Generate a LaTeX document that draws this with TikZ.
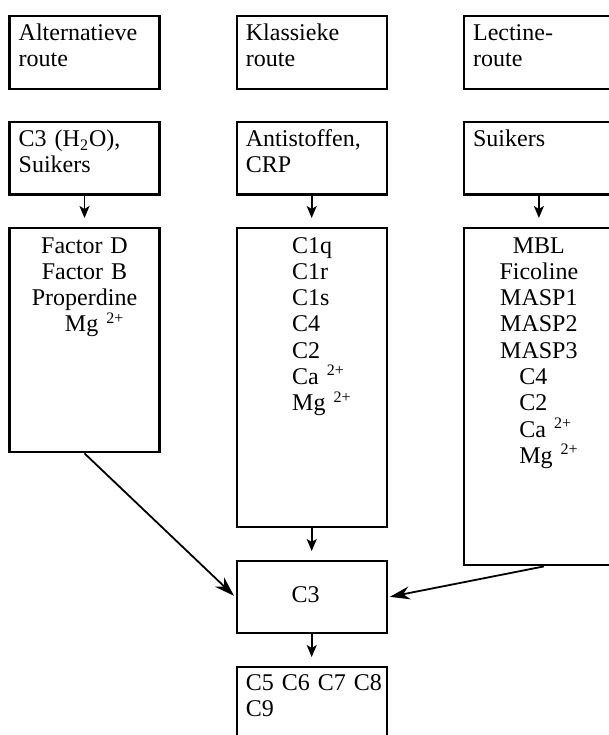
\documentclass[tikz,border=0pt]{standalone}
\usepackage{fontspec}
\setmainfont{Liberation Serif}
\usetikzlibrary{arrows.meta,positioning}

\tikzset{
  box/.style={draw, line width=1.2pt, anchor=north west, inner sep=0pt, minimum width=75pt},
  links/.style={anchor=base west, inner sep=0pt, text width=70pt, align=left, font=\fontsize{12}{13}\selectfont},
  midden/.style={anchor=base, inner sep=0pt, text width=75pt, align=center, font=\fontsize{12}{13.15}\selectfont},
  pijl/.style={-{Stealth[length=6pt,width=5pt,inset=1.5pt]}, line width=0.9pt, shorten >=4.5pt},
  lang/.style={-{Stealth[length=10pt,width=6.5pt]}, line width=0.9pt, shorten >=1pt}
}
\newcommand{\lks}[1]{\makebox[19.5pt][l]{#1}}

\begin{document}
\begin{tikzpicture}[x=0.5pt,y=-0.5pt]
\useasboundingbox (0,0) rectangle (609,735);
\clip (0,0) rectangle (609,735);
% routes
\node[box, minimum height=36.75pt] (altroute) at (8.3,14.5) {};
\node[box, minimum height=36.75pt] (klasroute) at (235.5,14.5) {};
\node[box, minimum height=36.75pt] (lectroute) at (462.7,14.5) {};
\node[links] (altrouteT) at ([xshift=5pt,yshift=-13.1pt]altroute.north west) {Alternatieve\\route};
\node[links] (klasrouteT) at ([xshift=5pt,yshift=-13.1pt]klasroute.north west) {Klassieke\\route};
\node[links] (lectrouteT) at ([xshift=5pt,yshift=-13.1pt]lectroute.north west) {Lectine-\\route};
% activators
\node[box, minimum height=36.25pt] (altstart) at (8.3,120.7) {};
\node[box, minimum height=36.25pt] (klasstart) at (235.5,120.7) {};
\node[box, minimum height=36.25pt] (lectstart) at (462.7,120.7) {};
\node[links] (altstartT) at ([xshift=5pt,yshift=-13pt]altstart.north west) {C3 (H\textsubscript{2}O),\\Suikers};
\node[links] (klasstartT) at ([xshift=5pt,yshift=-13pt]klasstart.north west) {Antistoffen,\\CRP};
\node[links] (lectstartT) at ([xshift=5pt,yshift=-13pt]lectstart.north west) {Suikers};
% factoren
\node[box, minimum height=112pt] (altfact) at (8.3,227) {};
\node[box, minimum height=149.5pt] (klasfact) at (235.5,227) {};
\node[box, minimum height=168.5pt] (lectfact) at (462.7,227) {};
\node[midden] (altfactT) at ([yshift=-13pt]altfact.north) {Factor D\\Factor B\\Properdine\\\lks{Mg \textsuperscript{2+}}};
\node[midden] (klasfactT) at ([yshift=-13pt]klasfact.north) {\lks{C1q}\\\lks{C1r}\\\lks{C1s}\\\lks{C4}\\\lks{C2}\\\lks{Ca \textsuperscript{2+}}\\\lks{Mg \textsuperscript{2+}}};
\node[midden] (lectfactT) at ([yshift=-13pt]lectfact.north) {MBL\\Ficoline\\MASP1\\MASP2\\MASP3\\\lks{C4}\\\lks{C2}\\\lks{Ca \textsuperscript{2+}}\\\lks{Mg \textsuperscript{2+}}};
% C3 en verder
\node[box, minimum height=36pt] (cdrie) at (235.5,560) {};
\node[anchor=base, inner sep=0pt, font=\fontsize{12}{13}\selectfont] (cdrieT) at ([xshift=-3pt,yshift=-2.5pt]cdrie.center) {C3};
\node[box, minimum height=57pt] (laatst) at (235.5,666) {};
\node[links] (laatstT) at ([xshift=5pt,yshift=-12pt]laatst.north west) {C5 C6 C7 C8\\C9};
% pijlen
\draw[pijl] (altstart.south) -- (altfact.north);
\draw[pijl] (klasstart.south) -- (klasfact.north);
\draw[pijl] (lectstart.south) -- (lectfact.north);
\draw[pijl] (klasfact.south) -- (cdrie.north);
\draw[pijl] (cdrie.south) -- (laatst.north);
\draw[lang] (altfact.south) -- (cdrie.west);
\draw[lang] ([xshift=2.5pt]lectfact.south) -- (cdrie.east);
\end{tikzpicture}
\end{document}
